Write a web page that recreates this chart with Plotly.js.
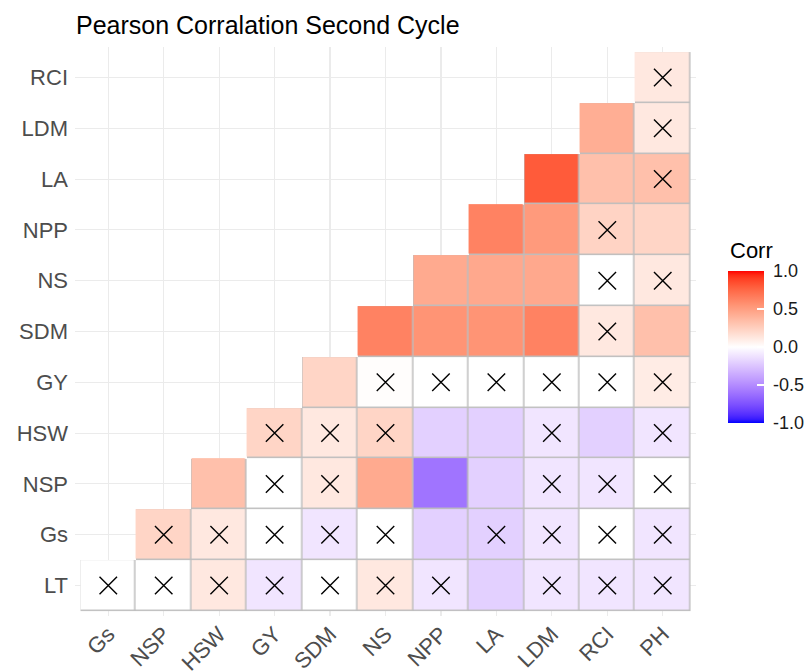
<!DOCTYPE html>
<html>
<head>
<meta charset="utf-8">
<script src="https://cdn.plot.ly/plotly-3.0.1.min.js"></script>
<style>html,body{margin:0;padding:0;background:#fff;}#chart{width:805px;height:671px;}</style>
</head>
<body>
<div id="chart"></div>
<script>
// ---- Data ----
const xLabels = ['Gs','NSP','HSW','GY','SDM','NS','NPP','LA','LDM','RCI','PH'];
const yLabels = ['LT','Gs','NSP','HSW','GY','SDM','NS','NPP','LA','LDM','RCI'];

// correlation values per row (row i starts at column i)
const rowLT  = [0.00, 0.00, 0.12, -0.11, 0.00, 0.12, -0.11, -0.20, -0.11, -0.11, -0.11];
const rowGs  = [0.22, 0.12, 0.00, -0.11, 0.00, -0.20, -0.20, -0.11, 0.00, -0.11];
const rowNSP = [0.33, 0.00, 0.12, 0.44, -0.60, -0.20, -0.11, -0.11, 0.00];
const rowHSW = [0.22, 0.12, 0.22, -0.20, -0.20, -0.11, -0.20, -0.11];
const rowGY  = [0.22, 0.01, 0.00, 0.00, 0.00, 0.00, 0.10];
const rowSDM = [0.63, 0.55, 0.55, 0.63, 0.12, 0.33];
const rowNS  = [0.44, 0.45, 0.45, 0.00, 0.12];
const rowNPP = [0.63, 0.52, 0.23, 0.22];
const rowLA  = [0.80, 0.33, 0.33];
const rowLDM = [0.42, 0.12];
const rowRCI = [0.12];

// non-significant flags (1 = crossed out)
const nsLT  = [1,1,1,1,1,1,1,0,1,1,1];
const nsGs  = [1,1,1,1,1,0,1,1,1,1];
const nsNSP = [0,1,1,0,0,0,1,1,1];
const nsHSW = [1,1,1,0,0,1,0,1];
const nsGY  = [0,1,1,1,1,1,1];
const nsSDM = [0,0,0,0,1,0];
const nsNS  = [0,0,0,1,1];
const nsNPP = [0,0,1,0];
const nsLA  = [0,0,1];
const nsLDM = [0,1];
const nsRCI = [1];

const rows = [rowLT,rowGs,rowNSP,rowHSW,rowGY,rowSDM,rowNS,rowNPP,rowLA,rowLDM,rowRCI];
const flags = [nsLT,nsGs,nsNSP,nsHSW,nsGY,nsSDM,nsNS,nsNPP,nsLA,nsLDM,nsRCI];

// ---- Lab colour interpolation (like ggplot2 gradient2) ----
function hex2rgb(h){return [parseInt(h.substr(1,2),16)/255,parseInt(h.substr(3,2),16)/255,parseInt(h.substr(5,2),16)/255];}
function s2l(c){return c<=0.04045?c/12.92:Math.pow((c+0.055)/1.055,2.4);}
function l2s(c){c=Math.max(0,Math.min(1,c));return c<=0.0031308?12.92*c:1.055*Math.pow(c,1/2.4)-0.055;}
const Xn=0.95047,Yn=1.0,Zn=1.08883;
function toLab(h){
  const [r,g,b]=hex2rgb(h).map(s2l);
  const X=0.4124*r+0.3576*g+0.1805*b, Y=0.2126*r+0.7152*g+0.0722*b, Z=0.0193*r+0.1192*g+0.9505*b;
  const f=t=>t>0.008856?Math.cbrt(t):7.787*t+16/116;
  const fx=f(X/Xn),fy=f(Y/Yn),fz=f(Z/Zn);
  return [116*fy-16,500*(fx-fy),200*(fy-fz)];
}
function fromLab(L,a,b){
  const fy=(L+16)/116,fx=fy+a/500,fz=fy-b/200;
  const fi=t=>t>0.206893?t*t*t:(t-16/116)/7.787;
  const X=Xn*fi(fx),Y=Yn*fi(fy),Z=Zn*fi(fz);
  const r=3.2406*X-1.5372*Y-0.4986*Z, g=-0.9689*X+1.8758*Y+0.0415*Z, bb=0.0557*X-0.2040*Y+1.0570*Z;
  return 'rgb('+[r,g,bb].map(c=>Math.round(l2s(c)*255)).join(',')+')';
}
const labLow=toLab('#0000FF'), labMid=toLab('#FFFFFF'), labHigh=toLab('#FF0000');
const colorscale=[];
for(let k=0;k<=40;k++){
  const s=k/40, v=-1+2*s;
  const end = v<0?labLow:labHigh, t=Math.abs(v);
  colorscale.push([s, fromLab(labMid[0]+(end[0]-labMid[0])*t, labMid[1]+(end[1]-labMid[1])*t, labMid[2]+(end[2]-labMid[2])*t)]);
}

// ---- Build matrices ----
const z=[], zb=[], cx=[], cy=[];
for(let i=0;i<yLabels.length;i++){
  const r=[], rb=[];
  for(let j=0;j<xLabels.length;j++){
    if(j>=i){
      r.push(rows[i][j-i]); rb.push(1);
      if(flags[i][j-i]){cx.push(xLabels[j]); cy.push(yLabels[i]);}
    } else {r.push(null); rb.push(null);}
  }
  z.push(r); zb.push(rb);
}

const FONT='Liberation Sans, Arial, sans-serif';
const NB='\u00A0';
const border = {
  type:'heatmap', x:xLabels, y:yLabels, z:zb,
  colorscale:[[0,'#BEBEBE'],[1,'#BEBEBE']], showscale:false, hoverinfo:'skip'
};
const heat = {
  type:'heatmap', x:xLabels, y:yLabels, z:z, zmin:-1, zmax:1,
  colorscale:colorscale, xgap:1.5, ygap:1.5,
  colorbar:{
    thickness:36, thicknessmode:'pixels', len:152, lenmode:'pixels',
    xref:'container', x:728/805, xanchor:'left', xpad:0,
    yref:'paper', y:(616-423)/569, yanchor:'bottom', ypad:0,
    outlinewidth:0, tickvals:[-1,-0.5,0,0.5,1],
    ticktext:[NB+'-1.0',NB+'-0.5',NB+'0.0',NB+'0.5',NB+'1.0'],
    ticks:'inside', ticklen:7, tickcolor:'#fff', tickwidth:1.5,
    tickfont:{family:FONT, size:18, color:'#1a1a1a'}
  }
};
const crosses = {
  type:'scatter', mode:'markers', x:cx, y:cy,
  marker:{symbol:'x-thin', size:17.5, color:'#000', line:{color:'#000', width:1.4}},
  hoverinfo:'skip', showlegend:false
};

const tickFont={family:FONT, size:22, color:'#4D4D4D'};
const layout = {
  width:805, height:671,
  margin:{l:75, r:109, t:47, b:55, pad:0},
  paper_bgcolor:'#fff', plot_bgcolor:'#fff',
  showlegend:false,
  title:{text:'Pearson Corralation Second Cycle', x:76/805, xref:'container', xanchor:'left',
         y:1-25/671, yref:'container', yanchor:'middle',
         font:{family:FONT, size:25, color:'#000'}},
  annotations:[{text:'Corr', xref:'paper', yref:'paper', x:(728-75)/621, y:(616-251)/569,
                xanchor:'left', yanchor:'middle', showarrow:false,
                font:{family:FONT, size:22, color:'#000'}}],
  xaxis:{type:'category', categoryorder:'array', categoryarray:xLabels, range:[-0.6,10.6],
         showgrid:true, gridcolor:'#EBEBEB', gridwidth:1.1, zeroline:false, showline:false,
         ticks:'', tickangle:-45, tickfont:tickFont, fixedrange:true},
  yaxis:{type:'category', categoryorder:'array', categoryarray:yLabels, range:[-0.6,10.6],
         showgrid:true, gridcolor:'#EBEBEB', gridwidth:1.1, zeroline:false, showline:false,
         ticks:'', tickfont:tickFont, ticklabelstandoff:6, fixedrange:true}
};
Plotly.newPlot('chart', [border, heat, crosses], layout, {displayModeBar:false, staticPlot:true});
</script>
</body>
</html>
